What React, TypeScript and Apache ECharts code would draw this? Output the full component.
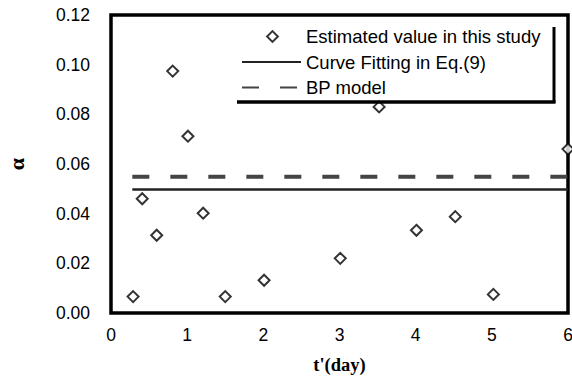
import React, { useEffect, useRef } from "react";
import * as echarts from "echarts";

const estX = [0.29, 0.41, 0.6, 0.81, 1.01, 1.21, 1.5, 2.01, 3.01, 3.52, 4.01, 4.52, 5.02, 6.0];
const estY = [0.0066, 0.046, 0.0313, 0.0974, 0.0712, 0.0402, 0.0066, 0.0132, 0.022, 0.083, 0.0333, 0.0388, 0.0075, 0.066];
const fitX = [0.28, 6];
const fitY = [0.0497, 0.0497];
const bpX = [0.28, 6];
const bpY = [0.0549, 0.0549];
const xTicks = [0, 1, 2, 3, 4, 5, 6];
const yTicks = [0, 0.02, 0.04, 0.06, 0.08, 0.1, 0.12];
const names = ["Estimated value in this study", "Curve Fitting in Eq.(9)", "BP model"];

export default function App() {
  const ref = useRef<HTMLDivElement>(null);
  useEffect(() => {
    if (!ref.current) return;
    const chart = echarts.init(ref.current, null, { renderer: "svg" });
    const sans = "'Liberation Sans', Arial, sans-serif";
    const serif = "'Liberation Serif', 'Times New Roman', serif";
    const diamondIcon = "path://M0 0 M60 12 M31 0.5 L36.5 6 L31 11.5 L25.5 6 Z";
    chart.setOption({
      animation: false,
      backgroundColor: "#fff",
      grid: {
        left: 111,
        top: 15,
        right: 4,
        bottom: 63,
        show: true,
        containLabel: false,
        outerBoundsMode: "none",
        borderColor: "#000",
        borderWidth: 3.5,
        backgroundColor: "transparent",
      },
      xAxis: {
        type: "value",
        min: xTicks[0],
        max: xTicks[xTicks.length - 1],
        interval: 1,
        axisLine: { show: false },
        axisTick: { show: false },
        splitLine: { show: false },
        axisLabel: { color: "#000", fontFamily: sans, fontSize: 17.5, margin: 13 },
        name: "t'(day)",
        nameLocation: "middle",
        nameGap: 42,
        nameTextStyle: { color: "#000", fontFamily: serif, fontSize: 18.5, fontWeight: "bold" },
      },
      yAxis: {
        type: "value",
        min: yTicks[0],
        max: yTicks[yTicks.length - 1],
        interval: 0.02,
        axisLine: { show: false },
        axisTick: { show: false },
        splitLine: { show: false },
        axisLabel: {
          color: "#000",
          fontFamily: sans,
          fontSize: 17.5,
          margin: 21,
          formatter: (v: number) => v.toFixed(2),
        },
        name: "α",
        nameLocation: "middle",
        nameRotate: 90,
        nameGap: 84,
        nameTextStyle: { color: "#000", fontFamily: serif, fontSize: 22, fontWeight: "bold" },
      },
      legend: {
        orient: "vertical",
        left: 241,
        top: 27,
        padding: 0,
        itemWidth: 59,
        itemHeight: 12,
        itemGap: 6.5,
        backgroundColor: "#fff",
        textStyle: { color: "#000", fontFamily: sans, fontSize: 18.5 },
        data: [
          { name: names[0], icon: diamondIcon },
          { name: names[1] },
          { name: names[2] },
        ],
      },
      graphic: [
        {
          type: "line",
          z: 100,
          shape: { x1: 237, y1: 102, x2: 555.5, y2: 102 },
          style: { stroke: "#000", lineWidth: 3.5 },
        },
        {
          type: "line",
          z: 100,
          shape: { x1: 554, y1: 27, x2: 554, y2: 103 },
          style: { stroke: "#000", lineWidth: 3 },
        },
      ],
      series: [
        {
          name: names[0],
          type: "scatter",
          symbol: "diamond",
          symbolSize: 11,
          clip: false,
          itemStyle: { color: "#fff", borderColor: "#000", borderWidth: 2 },
          data: estX.map((x, i) => [x, estY[i]]),
          z: 5,
        },
        {
          name: names[1],
          type: "line",
          symbol: "none",
          itemStyle: { color: "rgba(0,0,0,0)" },
          lineStyle: { color: "#222", width: 2.5, type: "solid" },
          data: fitX.map((x, i) => [x, fitY[i]]),
          z: 3,
        },
        {
          name: names[2],
          type: "line",
          symbol: "none",
          itemStyle: { color: "rgba(0,0,0,0)" },
          lineStyle: { color: "#444", width: 4, type: [17, 21] },
          data: bpX.map((x, i) => [x, bpY[i]]),
          z: 3,
        },
      ],
    });
    return () => chart.dispose();
  }, []);
  return <div ref={ref} style={{ width: 572, height: 376, position: "absolute", left: 0, top: 0 }} />;
}
